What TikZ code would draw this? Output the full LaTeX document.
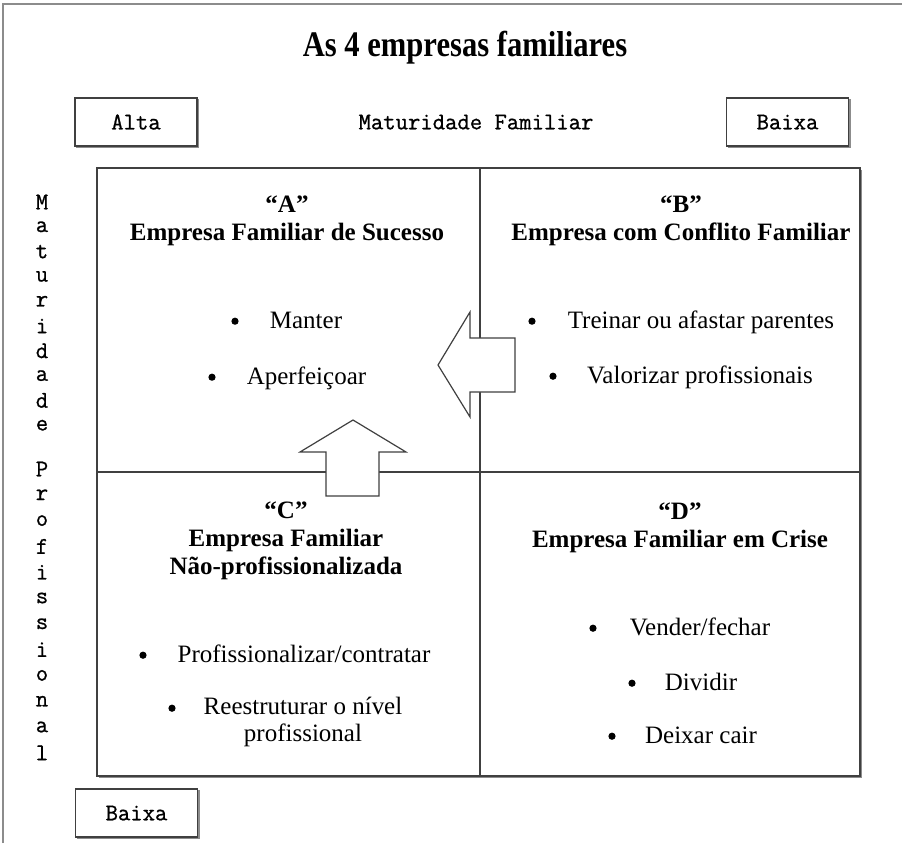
\documentclass[tikz,border=0pt]{standalone}
\usepackage{fontspec}
\setmainfont{Liberation Serif}
\newfontfamily\axisfont[FakeBold=0.9]{Latin Modern Mono}
\usetikzlibrary{shadows}

\tikzset{
  framegray/.style={line width=1.2pt, draw=black!45},
  quadline/.style={line width=0.75pt, draw=black!75},
  blockarrow/.style={line width=0.6pt, draw=black!75, fill=white, line join=miter},
  flagbox/.style={draw=black!75, line width=0.6pt, fill=white,
    minimum width=61pt, minimum height=24pt, inner sep=0pt,
    font=\fontsize{12}{13}\selectfont\axisfont,
    copy shadow={shadow xshift=0.9pt, shadow yshift=-0.9pt, draw=black!45, fill=black!45}},
  axistext/.style={font=\fontsize{12}{13}\selectfont\axisfont, inner sep=0pt},
  titletext/.style={inner sep=0pt},
  heading/.style={font=\fontsize{12.5}{14}\selectfont\bfseries, align=center, inner sep=0pt},
  itemtext/.style={font=\fontsize{12.5}{13.5}\selectfont, align=center, inner sep=0pt,
    text height=0.7em, text depth=0.2em},
  bulletmark/.style={font=\fontsize{12.5}{14}\selectfont, inner sep=0pt,
    text height=0.7em, text depth=0.2em}
}
\newcommand{\bigdot}{\tikz[baseline]\fill (0,3.4pt) circle (1.8pt);}

\begin{document}
\begin{tikzpicture}[x=0.5pt, y=-0.5pt]
  \useasboundingbox (0,0) rectangle (902,843);
  % outer frame, only top and left edges show
  \draw[framegray] (3,843) -- (3,4) -- (902,4);
  % title
  \node[titletext] (title) at (465,48)
    {\scalebox{0.85}[1]{\fontsize{18}{20}\selectfont\bfseries As 4 empresas familiares}};
  % horizontal axis
  \node[flagbox] (alta) at (136,122) {Alta};
  \node[axistext] (matfam) at (476,122) {Maturidade Familiar};
  \node[flagbox] (baixatop) at (787.5,122) {Baixa};
  % vertical axis, one letter per line
  \foreach \ch [count=\i from 0] in {M,a,t,u,r,i,d,a,d,e}
    \node[axistext] (matp\i) at (42,{202+24.8*\i}) {\ch};
  \foreach \ch [count=\i from 0] in {P,r,o,f,i,s,s,i,o,n,a,l}
    \node[axistext] (prof\i) at (42,{469+25.8*\i}) {\ch};
  \node[flagbox] (baixabot) at (136.5,813) {Baixa};

  % grid of the four quadrants
  \coordinate (nw) at (97,168);
  \coordinate (se) at (860,776);
  \fill[black!45] ([xshift=0.9pt,yshift=-0.9pt]nw) rectangle ([xshift=0.9pt,yshift=-0.9pt]se);
  \draw[quadline, fill=white] (nw) rectangle (se);
  \draw[quadline] (480,168) -- (480,776);
  \draw[quadline] (97,472) -- (860,472);

  % A
  \node[heading] (qa) at (287,221) {“A”\\Empresa Familiar de Sucesso};
  \node[bulletmark] (ba1) at (235,323) {\bigdot};
  \node[itemtext] (ia1) at (306,323) {Manter};
  \node[bulletmark] (ba2) at (212,379) {\bigdot};
  \node[itemtext] (ia2) at (306.5,379) {Aperfeiçoar};
  % B
  \node[heading] (qb) at (681,221) {“B”\\Empresa com Conflito Familiar};
  \node[bulletmark] (bb1) at (532,323) {\bigdot};
  \node[itemtext] (ib1) at (701,323) {Treinar ou afastar parentes};
  \node[bulletmark] (bb2) at (553,378) {\bigdot};
  \node[itemtext] (ib2) at (700,378) {Valorizar profissionais};
  % C
  \node[heading] (qc) at (286,541) {“C”\\Empresa Familiar\\Não-profissionalizada};
  \node[bulletmark] (bc1) at (143,657) {\bigdot};
  \node[itemtext] (ic1) at (304,657) {Profissionalizar/contratar};
  \node[bulletmark] (bc2) at (172,710) {\bigdot};
  \node[itemtext, anchor=north, text height=, text depth=] (ic2) at (303,697) {Reestruturar o nível\\profissional};
  % D
  \node[heading] (qd) at (680,528) {“D”\\Empresa Familiar em Crise};
  \node[bulletmark] (bd1) at (593,630) {\bigdot};
  \node[itemtext] (id1) at (700,630) {Vender/fechar};
  \node[bulletmark] (bd2) at (632,685) {\bigdot};
  \node[itemtext] (id2) at (701,685) {Dividir};
  \node[bulletmark] (bd3) at (612,738) {\bigdot};
  \node[itemtext] (id3) at (701,738) {Deixar cair};

  % block arrows towards A
  \draw[blockarrow] (438,365) -- (470,312) -- (470,338) -- (515,338)
    -- (515,392) -- (470,392) -- (470,417) -- cycle;
  \draw[blockarrow] (353,420) -- (406,452) -- (379,452) -- (379,496)
    -- (326,496) -- (326,452) -- (300,452) -- cycle;
\end{tikzpicture}
\end{document}
